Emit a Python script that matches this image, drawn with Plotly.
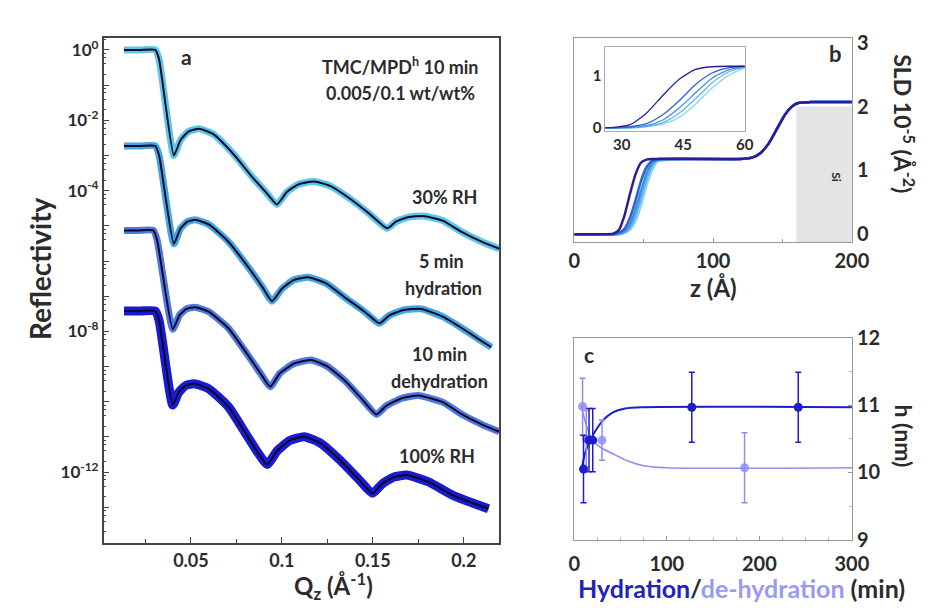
import plotly.graph_objects as go

W, H = 935, 608
FONT = "Lato"
TXT = "#2b2b2b"

# ---------------- panel a : reflectivity (Q in 1/Å, log10 R, curves offset) ----------------
q_30rh = [0.0132, 0.0224, 0.0304, 0.0325, 0.0406, 0.0443, 0.0486, 0.0545, 0.0625, 0.0732, 0.0840, 0.0920,
          0.0973, 0.1027, 0.1091, 0.1177, 0.1268, 0.1375, 0.1482, 0.1579, 0.1627, 0.1697, 0.1777, 0.1884,
          0.1991, 0.2098, 0.2195]
lr_30rh = [0, 0, 0, -0.27, -3.00, -2.56, -2.32, -2.24, -2.40, -2.95, -3.63, -4.09,
           -4.39, -4.04, -3.82, -3.74, -3.87, -4.23, -4.66, -5.07, -4.88, -4.75, -4.72, -4.85,
           -5.18, -5.45, -5.65]
q_5min = [0.0132, 0.0224, 0.0304, 0.0325, 0.0406, 0.0443, 0.0481, 0.0523, 0.0598, 0.0706, 0.0813, 0.0893,
          0.0946, 0.1000, 0.1064, 0.1145, 0.1241, 0.1348, 0.1455, 0.1536, 0.1589, 0.1670, 0.1766, 0.1884,
          0.1991, 0.2088, 0.2152]
lr_5min = [-2.73, -2.73, -2.73, -3.00, -5.51, -5.07, -4.88, -4.83, -4.96, -5.45, -6.16, -6.74,
           -7.14, -6.79, -6.54, -6.46, -6.63, -7.04, -7.44, -7.77, -7.55, -7.39, -7.36, -7.58,
           -7.91, -8.24, -8.45]
q_10min = [0.0132, 0.0213, 0.0293, 0.0314, 0.0400, 0.0438, 0.0475, 0.0523, 0.0598, 0.0706, 0.0813, 0.0882,
           0.0936, 0.0989, 0.1064, 0.1161, 0.1252, 0.1348, 0.1445, 0.1520, 0.1573, 0.1659, 0.1750, 0.1884,
           0.1991, 0.2098, 0.2195]
lr_10min = [-5.13, -5.13, -5.13, -5.40, -7.94, -7.53, -7.36, -7.31, -7.44, -7.91, -8.67, -9.19,
            -9.57, -9.19, -8.92, -8.81, -9.00, -9.41, -9.95, -10.36, -10.12, -9.90, -9.82, -10.01,
            -10.36, -10.64, -10.85]
q_100rh = [0.0132, 0.0224, 0.0304, 0.0325, 0.0400, 0.0432, 0.0470, 0.0518, 0.0598, 0.0706, 0.0802, 0.0866,
           0.0920, 0.0973, 0.1043, 0.1123, 0.1214, 0.1322, 0.1429, 0.1498, 0.1552, 0.1616, 0.1686, 0.1803,
           0.1938, 0.2045, 0.2136]
lr_100rh = [-7.42, -7.42, -7.42, -7.69, -10.09, -9.74, -9.54, -9.49, -9.63, -10.14, -10.91, -11.43,
            -11.78, -11.40, -11.10, -10.99, -11.18, -11.67, -12.24, -12.60, -12.33, -12.14, -12.08, -12.27,
            -12.65, -12.87, -13.04]
curve_colors = ["#5cc6ef", "#45a6e6", "#4f78e6", "#1a1ad2"]

ytick_exp = [0, -2, -4, -8, -12]
xtick_a = [0.05, 0.1, 0.15, 0.2]

# ---------------- panel b : SLD profiles ----------------
z_sld = [0, 20, 28, 32, 36, 40, 44, 48, 52, 56, 60, 120, 128, 134, 140, 146, 152, 158, 162, 170, 200]
sld_p1 = [0, 0, 0.01, 0.06, 0.28, 0.62, 0.93, 1.12, 1.17, 1.18, 1.18, 1.18, 1.20, 1.27, 1.42, 1.65, 1.88, 2.02, 2.06, 2.07, 2.07]
sld_p2 = [0, 0, 0, 0.02, 0.08, 0.25, 0.52, 0.83, 1.05, 1.15, 1.18, 1.18, 1.20, 1.27, 1.42, 1.65, 1.88, 2.02, 2.06, 2.07, 2.07]
sld_p3 = [0, 0, 0, 0.01, 0.04, 0.15, 0.38, 0.67, 0.95, 1.11, 1.17, 1.18, 1.20, 1.27, 1.42, 1.65, 1.88, 2.02, 2.06, 2.07, 2.07]
sld_p4 = [0, 0, 0, 0, 0.03, 0.10, 0.28, 0.56, 0.86, 1.07, 1.16, 1.18, 1.20, 1.27, 1.42, 1.65, 1.88, 2.02, 2.06, 2.07, 2.07]
sld_p5 = [0, 0, 0, 0, 0.02, 0.07, 0.20, 0.45, 0.76, 1.00, 1.14, 1.18, 1.20, 1.27, 1.42, 1.65, 1.88, 2.02, 2.06, 2.07, 2.07]
profiles = [sld_p5, sld_p4, sld_p3, sld_p2, sld_p1]
profile_colors = ["#8fd2f5", "#5fb6ee", "#3f90e2", "#2e62d2", "#2a1d9c"]
si_z = [160, 200]
si_top = 2.0

# ---------------- panel c : thickness vs time ----------------
t_hyd = [10, 16, 20, 127, 242]
h_hyd = [10.05, 10.48, 10.48, 10.97, 10.97]
e_hyd = [0.5, 0.47, 0.47, 0.52, 0.52]
t_dehyd = [9, 13, 30, 184]
h_dehyd = [10.98, 10.5, 10.48, 10.07]
e_dehyd = [0.42, 0.42, 0.3, 0.52]
tfit_hyd = [8, 12, 18, 23, 30, 40, 55, 75, 300]
hfit_hyd = [10.05, 10.3, 10.5, 10.62, 10.76, 10.88, 10.95, 10.97, 10.97]
tfit_dehyd = [8, 12, 18, 23, 30, 40, 58, 75, 100, 300]
hfit_dehyd = [10.98, 10.75, 10.52, 10.43, 10.36, 10.29, 10.17, 10.1, 10.07, 10.07]
C_HYD = "#1e1ec8"
C_DEHYD = "#8e8ef2"


def px(x):
    return x / W


def py(y):
    return 1 - y / H


fig = go.Figure()

# panel a traces
series_a = [(q_30rh, lr_30rh), (q_5min, lr_5min), (q_10min, lr_10min), (q_100rh, lr_100rh)]
for i, (q, lr) in enumerate(series_a):
    r = [10 ** v for v in lr]
    fig.add_trace(go.Scatter(x=q, y=r, mode="lines", xaxis="x", yaxis="y",
                             line=dict(color=curve_colors[i], width=9 if i == 3 else 7,
                                       shape="spline", smoothing=0.5),
                             showlegend=False, hoverinfo="skip"))
for i, (q, lr) in enumerate(series_a):
    r = [10 ** v for v in lr]
    fig.add_trace(go.Scatter(x=q, y=r, mode="lines", xaxis="x", yaxis="y",
                             line=dict(color="#0b0b22", width=2, shape="spline", smoothing=0.5),
                             showlegend=False, hoverinfo="skip"))

# panel b traces (main + inset)
for prof, col in zip(profiles, profile_colors):
    fig.add_trace(go.Scatter(x=z_sld, y=prof, mode="lines", xaxis="x2", yaxis="y2",
                             line=dict(color=col, width=2.5, shape="spline", smoothing=0.6),
                             showlegend=False, hoverinfo="skip"))
for prof, col in zip(profiles, profile_colors):
    fig.add_trace(go.Scatter(x=z_sld, y=prof, mode="lines", xaxis="x3", yaxis="y3",
                             line=dict(color=col, width=1.3, shape="spline", smoothing=0.6),
                             showlegend=False, hoverinfo="skip"))

# panel c traces
fig.add_trace(go.Scatter(x=tfit_dehyd, y=hfit_dehyd, mode="lines", xaxis="x4", yaxis="y4",
                         line=dict(color=C_DEHYD, width=1.6, shape="spline", smoothing=0.8),
                         showlegend=False, hoverinfo="skip"))
fig.add_trace(go.Scatter(x=tfit_hyd, y=hfit_hyd, mode="lines", xaxis="x4", yaxis="y4",
                         line=dict(color=C_HYD, width=2, shape="spline", smoothing=0.8),
                         showlegend=False, hoverinfo="skip"))
fig.add_trace(go.Scatter(x=t_dehyd, y=h_dehyd, mode="markers", xaxis="x4", yaxis="y4",
                         marker=dict(color=C_DEHYD, size=9, opacity=0.85),
                         error_y=dict(type="data", array=e_dehyd, color=C_DEHYD, thickness=1.5, width=3),
                         showlegend=False, hoverinfo="skip"))
fig.add_trace(go.Scatter(x=t_hyd, y=h_hyd, mode="markers", xaxis="x4", yaxis="y4",
                         marker=dict(color=C_HYD, size=9),
                         error_y=dict(type="data", array=e_hyd, color=C_HYD, thickness=1.5, width=3),
                         showlegend=False, hoverinfo="skip"))

tickfont = dict(family=FONT, size=18, color=TXT, weight="bold")

minor_log = [m * 10 ** k for k in range(-14, 1) for m in (2, 4, 6, 8)]

fig.update_layout(
    width=W, height=H, margin=dict(l=0, r=0, t=0, b=0),
    paper_bgcolor="white", plot_bgcolor="white",
    font=dict(family=FONT, color=TXT),
    xaxis=dict(domain=[px(92), px(498)], range=[0.002, 0.2195], anchor="y",
               tickvals=xtick_a, ticktext=[f"{v:g}" for v in xtick_a],
               ticks="inside", ticklen=6, tickcolor="#444", showgrid=False, zeroline=False,
               showline=True, linecolor="#444", linewidth=1.5, mirror=True, ticklabelstandoff=1,
               minor=dict(ticks="inside", ticklen=4, dtick=0.025, tickcolor="#444", showgrid=False),
               tickfont=tickfont),
    yaxis=dict(domain=[py(543), py(18)], type="log", range=[-14, 0.33], anchor="x",
               tickvals=[10 ** e for e in range(-14, 1)],
               ticktext=[f"10<sup>{e}</sup>" if e in ytick_exp else "" for e in range(-14, 1)],
               ticks="inside", ticklen=6, tickcolor="#444", showgrid=False, zeroline=False,
               showline=True, linecolor="#444", linewidth=1.5, mirror=True,
               minor=dict(ticks="inside", ticklen=3, tickvals=minor_log, tickcolor="#444", showgrid=False),
               tickfont=dict(family=FONT, size=17, color=TXT, weight="bold")),
    xaxis2=dict(domain=[px(575), px(860)], range=[0, 200], anchor="y2",
                tickvals=[0, 100, 200], ticks="inside", ticklen=4, tickcolor="#999",
                showgrid=False, zeroline=False, showline=True, linecolor="#999", linewidth=1.2, mirror=True,
                ticklabelstandoff=1,
                minor=dict(ticks="inside", ticklen=3, dtick=50, tickcolor="#999", showgrid=False),
                tickfont=dict(family=FONT, size=20, color=TXT, weight="bold")),
    yaxis2=dict(domain=[py(230), py(18)], range=[-0.12, 3.07], anchor="x2", side="right",
                tickvals=[0, 1, 2, 3], ticks="", showgrid=False, zeroline=False,
                showline=True, linecolor="#999", linewidth=1.2, mirror=True,
                tickfont=dict(family=FONT, size=20, color=TXT, weight="bold")),
    xaxis3=dict(domain=[px(607), px(750)], range=[26, 60], anchor="y3",
                tickvals=[30, 45, 60], ticks="", showgrid=False, zeroline=False,
                showline=True, linecolor="#aaa", linewidth=1, mirror=True,
                tickfont=dict(family=FONT, size=15, color=TXT, weight="bold")),
    yaxis3=dict(domain=[py(115), py(27)], range=[-0.07, 1.55], anchor="x3",
                tickvals=[0, 1], ticks="", showgrid=False, zeroline=False,
                showline=True, linecolor="#aaa", linewidth=1, mirror=True,
                tickfont=dict(family=FONT, size=15, color=TXT, weight="bold")),
    xaxis4=dict(domain=[px(575), px(860)], range=[0, 300], anchor="y4",
                tickvals=[0, 100, 200, 300], ticks="inside", ticklen=4, tickcolor="#999",
                showgrid=False, zeroline=False, showline=True, linecolor="#999", linewidth=1.2, mirror=True,
                ticklabelstandoff=6,
                minor=dict(ticks="inside", ticklen=3, dtick=25, tickcolor="#bbb", showgrid=False),
                tickfont=dict(family=FONT, size=20, color=TXT, weight="bold")),
    yaxis4=dict(domain=[py(540), py(330)], range=[9, 12], anchor="x4", side="right",
                tickvals=[9, 10, 11, 12], ticks="inside", ticklen=4, tickcolor="#999",
                showgrid=False, zeroline=False, showline=True, linecolor="#999", linewidth=1.2, mirror=True,
                minor=dict(ticks="inside", ticklen=3, dtick=0.5, tickcolor="#bbb", showgrid=False),
                tickfont=dict(family=FONT, size=20, color=TXT, weight="bold")),
)

fig.add_shape(type="rect", xref="x2", yref="y2", x0=si_z[0], x1=si_z[1], y0=-0.12, y1=si_top,
              fillcolor="#e4e4e4", line=dict(width=0), layer="below")


def ann(text, x, y, size, angle=0, color=TXT, xanchor="center"):
    fig.add_annotation(text=text, x=px(x), y=py(y), xref="paper", yref="paper",
                       showarrow=False, textangle=angle, xanchor=xanchor, yanchor="middle",
                       font=dict(family=FONT, size=size, color=color, weight="bold"))


# panel a texts
ann("a", 177, 37, 21)
ann("TMC/MPD<sup>h</sup> 10 min", 397, 47, 18)
ann("0.005/0.1 wt/wt%", 397, 75, 18)
ann("30% RH", 442, 183, 18)
ann("5 min", 439, 250, 18)
ann("hydration", 441, 278, 18)
ann("10 min", 437, 347, 18)
ann("dehydration", 437, 375, 18)
ann("100% RH", 434, 453, 18)
ann("Reflectivity", 27, 258, 28, angle=-90)
ann("Q<sub>z</sub> (Å<sup>-1</sup>)", 328, 588, 24)

# panel b texts
ann("b", 843, 34, 22)
ann("Si", 844, 163, 12, angle=90)
ann("z (Å)", 718, 277, 24)
ann("SLD 10<sup>-5</sup> (Å<sup>-2</sup>)", 913, 107, 23, angle=90)

# panel c texts
ann("c", 590, 347, 21)
ann("h (nm)", 913, 432, 23, angle=90)
ann("<span style='color:#2222c0'>Hydration</span>/<span style='color:#9a9af2'>de-hydration</span> (min)",
    747, 590, 25)

fig.write_html("out.html")
